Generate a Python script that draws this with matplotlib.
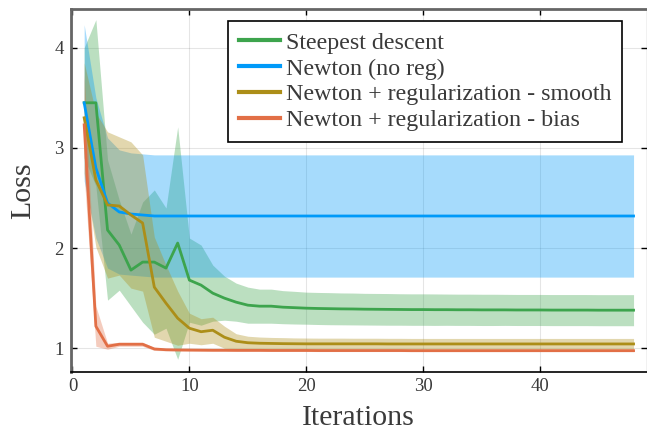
import numpy as np
import matplotlib
matplotlib.use("Agg")
import matplotlib.pyplot as plt

plt.rcParams['font.family'] = ['Liberation Serif', 'DejaVu Serif']

iterations = list(range(1, 49))

labels = ["Steepest descent", "Newton (no reg)",
          "Newton + regularization - smooth", "Newton + regularization - bias"]

steepest_mean = [3.45, 3.45, 2.18, 2.03, 1.78, 1.86, 1.86, 1.80, 2.05, 1.68,
                 1.63, 1.55, 1.50, 1.46, 1.43, 1.42, 1.42, 1.41, 1.405, 1.40,
                 1.397, 1.395, 1.393, 1.392, 1.39, 1.389, 1.388, 1.387, 1.386, 1.386,
                 1.385, 1.385, 1.384, 1.384, 1.383, 1.383, 1.383, 1.382, 1.382, 1.382,
                 1.381, 1.381, 1.381, 1.381, 1.38, 1.38, 1.38, 1.38]
steepest_std = [0.55, 0.83, 0.70, 0.45, 0.36, 0.60, 0.72, 0.60, 1.16, 0.42,
                0.40, 0.28, 0.22, 0.19, 0.18, 0.17, 0.17, 0.165, 0.163, 0.16,
                0.16, 0.16, 0.159, 0.159, 0.158, 0.158, 0.158, 0.157, 0.157, 0.157,
                0.157, 0.156, 0.156, 0.156, 0.156, 0.156, 0.155, 0.155, 0.155, 0.155,
                0.155, 0.155, 0.155, 0.155, 0.155, 0.155, 0.155, 0.155]

newton_mean = [3.45, 2.80, 2.45, 2.36, 2.34, 2.33] + [2.32] * 42
newton_std = [0.78, 0.70, 0.65, 0.62, 0.61, 0.61] + [0.61] * 42

smooth_mean = [3.30, 2.68, 2.43, 2.42, 2.33, 2.25, 1.61, 1.45, 1.30, 1.20,
               1.165, 1.18, 1.11, 1.07, 1.055, 1.05, 1.048, 1.046, 1.045, 1.044,
               1.044, 1.044, 1.044, 1.044, 1.044, 1.044, 1.043, 1.043, 1.043, 1.043,
               1.043, 1.043, 1.043, 1.043, 1.043, 1.043, 1.043, 1.043, 1.043, 1.043,
               1.043, 1.043, 1.043, 1.043, 1.043, 1.043, 1.043, 1.043]
smooth_std = [0.55, 0.67, 0.73, 0.69, 0.73, 0.68, 0.50, 0.38, 0.27, 0.15,
              0.13, 0.13, 0.11, 0.075, 0.065, 0.062, 0.06, 0.06, 0.058, 0.058,
              0.057, 0.057, 0.057, 0.056, 0.056, 0.056, 0.056, 0.056, 0.055, 0.055,
              0.055, 0.055, 0.055, 0.055, 0.055, 0.055, 0.055, 0.055, 0.055, 0.055,
              0.055, 0.055, 0.055, 0.055, 0.055, 0.055, 0.055, 0.055]

bias_mean = [3.23, 1.22, 1.02, 1.04, 1.04, 1.04, 0.993, 0.985, 0.983, 0.982,
             0.981, 0.98, 0.98, 0.979, 0.979, 0.979, 0.978, 0.978, 0.978, 0.978,
             0.977, 0.977, 0.977, 0.977, 0.977, 0.977, 0.977, 0.977, 0.976, 0.976,
             0.976, 0.976, 0.976, 0.976, 0.976, 0.976, 0.976, 0.976, 0.976, 0.976,
             0.976, 0.976, 0.976, 0.976, 0.976, 0.976, 0.976, 0.976]
bias_std = [0.50, 0.20, 0.03, 0.02, 0.02, 0.02, 0.015] + [0.01] * 41

colors = ["#3da44d", "#009af9", "#ac8e18", "#e26f46"]

xticks = [0, 10, 20, 30, 40]
yticks = [1, 2, 3, 4]

W, H = 647, 433
fig = plt.figure(figsize=(W / 100, H / 100), dpi=100)
ax = fig.add_axes([70.5 / W, (H - 371.5) / H, (647 - 70.5) / W, (371.5 - 9) / H])

series = [(steepest_mean, steepest_std), (newton_mean, newton_std),
          (smooth_mean, smooth_std), (bias_mean, bias_std)]
x = np.array(iterations)
for (m, s), c, lab in zip(series, colors, labels):
    m = np.array(m); s = np.array(s)
    ax.fill_between(x, m - s, m + s, color=c, alpha=0.35, linewidth=0)
    ax.plot(x, m, color=c, lw=2.0, label=lab)

ax.set_xlim(-0.17, 49.15)
ax.set_ylim(0.768, 4.386)
ax.set_xticks(xticks)
ax.set_yticks(yticks)
tc = '#3a3a3a'
ax.tick_params(direction='in', length=4.5, width=1.0, top=True, right=True,
               labelsize=13.5, labelcolor=tc, color='black', pad=5)
ax.grid(True, color='black', alpha=0.1, lw=0.8)
ax.set_axisbelow(True)

for side in ['left', 'top']:
    ax.spines[side].set_color('#666666')
    ax.spines[side].set_linewidth(2.0)
ax.spines['bottom'].set_color('black')
ax.spines['bottom'].set_linewidth(1.2)
ax.spines['right'].set_color('black')

ax.set_xlabel('Iterations', fontsize=21.5, color=tc, labelpad=7)
ax.set_ylabel('Loss', fontsize=21.5, color=tc, labelpad=13)

leg = ax.legend(loc='upper left', bbox_to_anchor=(228 / W, 1 - 21 / H),
                bbox_transform=fig.transFigure, fontsize=17.3, frameon=True,
                fancybox=False, framealpha=1, edgecolor='black',
                handlelength=1.7, handletextpad=0.25, labelspacing=0.17,
                borderpad=0.45, borderaxespad=0)
leg.get_frame().set_linewidth(1.2)
for t in leg.get_texts():
    t.set_color(tc)
for l in leg.get_lines():
    l.set_linewidth(3.0)

fig.savefig('out.png', dpi=100)
